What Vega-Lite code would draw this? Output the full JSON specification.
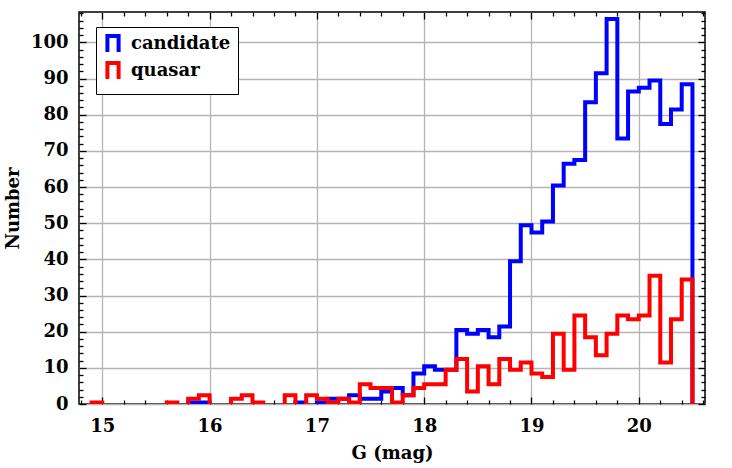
{
  "$schema": "https://vega.github.io/schema/vega-lite/v6.json",
  "width": 626,
  "height": 392,
  "autosize": {"type": "none"},
  "padding": {"left": 79, "top": 12, "right": 27, "bottom": 64},
  "background": "white",
  "datasets": {
    "hist": [
      {"G": 14.8, "candidate": 0, "quasar": 0},
      {"G": 14.9, "candidate": 0, "quasar": 1},
      {"G": 15.0, "candidate": 0, "quasar": 0},
      {"G": 15.1, "candidate": 0, "quasar": 0},
      {"G": 15.2, "candidate": 0, "quasar": 0},
      {"G": 15.3, "candidate": 0, "quasar": 0},
      {"G": 15.4, "candidate": 0, "quasar": 0},
      {"G": 15.5, "candidate": 0, "quasar": 0},
      {"G": 15.6, "candidate": 0, "quasar": 1},
      {"G": 15.7, "candidate": 0, "quasar": 0},
      {"G": 15.8, "candidate": 1, "quasar": 2},
      {"G": 15.9, "candidate": 1, "quasar": 3},
      {"G": 16.0, "candidate": 0, "quasar": 0},
      {"G": 16.1, "candidate": 0, "quasar": 0},
      {"G": 16.2, "candidate": 0, "quasar": 2},
      {"G": 16.3, "candidate": 0, "quasar": 3},
      {"G": 16.4, "candidate": 0, "quasar": 1},
      {"G": 16.5, "candidate": 0, "quasar": 0},
      {"G": 16.6, "candidate": 0, "quasar": 0},
      {"G": 16.7, "candidate": 0, "quasar": 3},
      {"G": 16.8, "candidate": 1, "quasar": 0},
      {"G": 16.9, "candidate": 0, "quasar": 3},
      {"G": 17.0, "candidate": 1, "quasar": 2},
      {"G": 17.1, "candidate": 2, "quasar": 1},
      {"G": 17.2, "candidate": 2, "quasar": 2},
      {"G": 17.3, "candidate": 3, "quasar": 1},
      {"G": 17.4, "candidate": 2, "quasar": 6},
      {"G": 17.5, "candidate": 2, "quasar": 5},
      {"G": 17.6, "candidate": 4, "quasar": 5},
      {"G": 17.7, "candidate": 5, "quasar": 1},
      {"G": 17.8, "candidate": 3, "quasar": 3},
      {"G": 17.9, "candidate": 9, "quasar": 5},
      {"G": 18.0, "candidate": 11, "quasar": 6},
      {"G": 18.1, "candidate": 10, "quasar": 6},
      {"G": 18.2, "candidate": 10, "quasar": 10},
      {"G": 18.3, "candidate": 21, "quasar": 13},
      {"G": 18.4, "candidate": 20, "quasar": 4},
      {"G": 18.5, "candidate": 21, "quasar": 11},
      {"G": 18.6, "candidate": 19, "quasar": 6},
      {"G": 18.7, "candidate": 22, "quasar": 13},
      {"G": 18.8, "candidate": 40, "quasar": 10},
      {"G": 18.9, "candidate": 50, "quasar": 12},
      {"G": 19.0, "candidate": 48, "quasar": 9},
      {"G": 19.1, "candidate": 51, "quasar": 8},
      {"G": 19.2, "candidate": 61, "quasar": 20},
      {"G": 19.3, "candidate": 67, "quasar": 10},
      {"G": 19.4, "candidate": 68, "quasar": 25},
      {"G": 19.5, "candidate": 84, "quasar": 19},
      {"G": 19.6, "candidate": 92, "quasar": 14},
      {"G": 19.7, "candidate": 107, "quasar": 20},
      {"G": 19.8, "candidate": 74, "quasar": 25},
      {"G": 19.9, "candidate": 87, "quasar": 24},
      {"G": 20.0, "candidate": 88, "quasar": 25},
      {"G": 20.1, "candidate": 90, "quasar": 36},
      {"G": 20.2, "candidate": 78, "quasar": 12},
      {"G": 20.3, "candidate": 82, "quasar": 24},
      {"G": 20.4, "candidate": 89, "quasar": 35},
      {"G": 20.5, "candidate": 0, "quasar": 0}
    ]
  },
  "data": {"name": "hist"},
  "transform": [{"fold": ["candidate", "quasar"], "as": ["series", "count"]}],
  "config": {
    "view": {"stroke": "black", "strokeWidth": 1.5},
    "font": "DejaVu Serif",
    "axis": {
      "labelFont": "DejaVu Serif",
      "labelFontSize": 18,
      "labelFontWeight": "bold",
      "labelColor": "black",
      "titleFont": "DejaVu Serif",
      "titleFontSize": 18,
      "titleFontWeight": "bold",
      "titleColor": "black",
      "tickColor": "black",
      "tickWidth": 1.3,
      "domain": false,
      "gridColor": "#b5b5b5",
      "gridWidth": 1.3,
      "labelOverlap": false,
      "labelFlush": false,
      "labelBound": false
    }
  },
  "layer": [
    {
      "mark": {"type": "line", "interpolate": "step-after", "strokeWidth": 4, "clip": true, "yOffset": 2, "strokeJoin": "miter"},
      "encoding": {
        "x": {
          "field": "G",
          "type": "quantitative",
          "scale": {"domain": [14.783, 20.617], "nice": false, "zero": false},
          "axis": {
            "orient": "bottom",
            "values": [14.8, 15, 15.2, 15.4, 15.6, 15.8, 16, 16.2, 16.4, 16.6, 16.8, 17, 17.2, 17.4, 17.6, 17.8, 18, 18.2, 18.4, 18.6, 18.8, 19, 19.2, 19.4, 19.6, 19.8, 20, 20.2, 20.4, 20.6],
            "title": "G  (mag)",
            "grid": true,
            "gridOpacity": {"condition": {"test": "abs(datum.value - round(datum.value)) < 0.001", "value": 1}, "value": 0},
            "tickSize": {"condition": {"test": "abs(datum.value - round(datum.value)) < 0.001", "value": -7}, "value": -4},
            "labelExpr": "abs(datum.value - round(datum.value)) < 0.001 ? format(datum.value, 'd') : ''",
            "labelPadding": 20,
            "titlePadding": 6
          }
        },
        "y": {
          "field": "count",
          "type": "quantitative",
          "scale": {"domain": [0, 108.4], "nice": false},
          "axis": {
            "orient": "left",
            "values": [0, 2, 4, 6, 8, 10, 12, 14, 16, 18, 20, 22, 24, 26, 28, 30, 32, 34, 36, 38, 40, 42, 44, 46, 48, 50, 52, 54, 56, 58, 60, 62, 64, 66, 68, 70, 72, 74, 76, 78, 80, 82, 84, 86, 88, 90, 92, 94, 96, 98, 100, 102, 104, 106, 108],
            "title": "Number",
            "grid": true,
            "gridOpacity": {"condition": {"test": "datum.value % 10 == 0", "value": 1}, "value": 0},
            "tickSize": {"condition": {"test": "datum.value % 10 == 0", "value": -7}, "value": -4},
            "labelExpr": "datum.value % 10 == 0 ? format(datum.value, 'd') : ''",
            "labelPadding": 18,
            "titlePadding": 8
          }
        },
        "color": {
          "field": "series",
          "type": "nominal",
          "scale": {"domain": ["candidate", "quasar"], "range": ["#0000ff", "#ff0000"]},
          "legend": {
            "orient": "none",
            "legendX": 17,
            "legendY": 15,
            "title": null,
            "symbolType": "M-0.7,1L-0.7,-1L0.7,-1L0.7,1",
            "symbolSize": 256,
            "symbolStrokeWidth": 4,
            "symbolFillColor": "transparent",
            "labelFont": "DejaVu Serif",
            "labelFontSize": 18,
            "labelFontWeight": "bold",
            "labelColor": "black",
            "labelOffset": 8,
            "padding": 7,
            "rowPadding": -5,
            "strokeColor": "black",
            "fillColor": "white",
            "cornerRadius": 0
          }
        }
      }
    },
    {
      "mark": {"type": "line", "opacity": 0},
      "encoding": {
        "x": {
          "field": "G",
          "type": "quantitative",
          "axis": {
            "orient": "top",
            "values": [14.8, 15, 15.2, 15.4, 15.6, 15.8, 16, 16.2, 16.4, 16.6, 16.8, 17, 17.2, 17.4, 17.6, 17.8, 18, 18.2, 18.4, 18.6, 18.8, 19, 19.2, 19.4, 19.6, 19.8, 20, 20.2, 20.4, 20.6],
            "labels": false,
            "grid": false,
            "title": null,
            "tickSize": {"condition": {"test": "abs(datum.value - round(datum.value)) < 0.001", "value": -7}, "value": -4}
          }
        },
        "y": {
          "field": "count",
          "type": "quantitative",
          "axis": {
            "orient": "right",
            "values": [0, 2, 4, 6, 8, 10, 12, 14, 16, 18, 20, 22, 24, 26, 28, 30, 32, 34, 36, 38, 40, 42, 44, 46, 48, 50, 52, 54, 56, 58, 60, 62, 64, 66, 68, 70, 72, 74, 76, 78, 80, 82, 84, 86, 88, 90, 92, 94, 96, 98, 100, 102, 104, 106, 108],
            "labels": false,
            "grid": false,
            "title": null,
            "tickSize": {"condition": {"test": "datum.value % 10 == 0", "value": -7}, "value": -4}
          }
        },
        "detail": {"field": "series", "type": "nominal"}
      }
    }
  ],
  "resolve": {"axis": {"x": "independent", "y": "independent"}}
}
